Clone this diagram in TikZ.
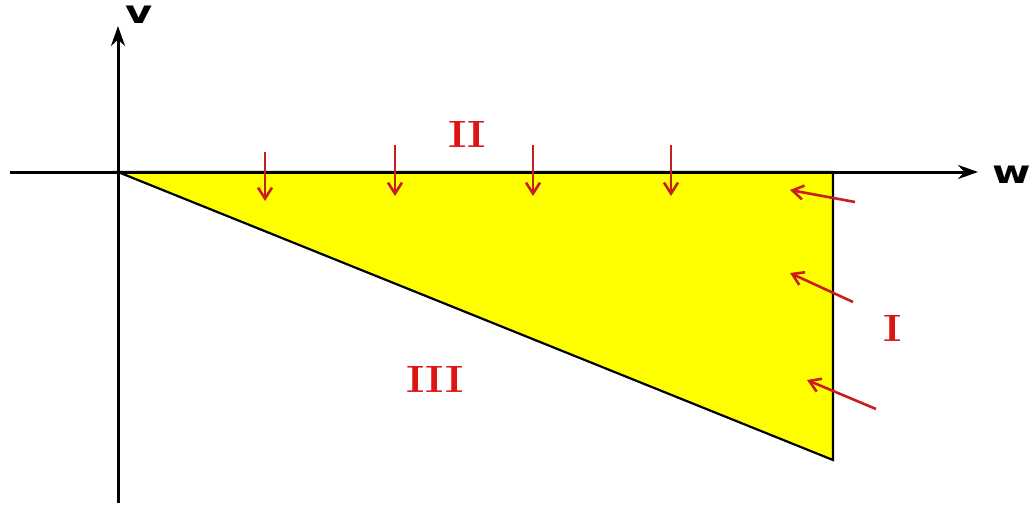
\documentclass[tikz,border=0pt]{standalone}
\usepackage{fontspec}
\newfontfamily\axisfont{DejaVu Sans}
\usetikzlibrary{arrows.meta}
\definecolor{fillyellow}{RGB}{255,255,0}
\definecolor{arrred}{RGB}{200,30,30}
\definecolor{lblred}{RGB}{220,20,20}
\begin{document}
\begin{tikzpicture}[x=1pt,y=-1pt,
  axis/.style={line width=3pt,-{Stealth[length=20pt,width=14pt]}},
  force/.style={draw=arrred,line width=2.6pt,-{Straight Barb[length=11pt,width=14pt]}},
  region/.style={text=lblred,font=\fontsize{38}{40}\selectfont\bfseries,inner sep=0pt,xscale=1.15},
  axlabel/.style={font=\axisfont\fontsize{32}{34}\selectfont\bfseries,inner sep=0pt,xscale=1.3}]
\useasboundingbox (0,0) rectangle (1034,506);
\coordinate (O) at (118,172);
\coordinate (A) at (833,172);
\coordinate (B) at (833,460);
\coordinate (xs) at (10,172);
\coordinate (xe) at (978,172);
\coordinate (ys) at (118,503);
\coordinate (ye) at (118,26);
\filldraw[fill=fillyellow,draw=black,line width=2.2pt,line join=miter] (O) -- (A) -- (B) -- cycle;
\draw[axis] (xs) -- (xe);
\draw[axis] (ys) -- (ye);
\node[axlabel] (v) at (139,15) {v};
\node[axlabel] (w) at (1012,175) {w};
% down arrows
\coordinate (d1s) at (265,152); \coordinate (d1e) at (265,201);
\coordinate (d2s) at (395,145); \coordinate (d2e) at (395,196);
\coordinate (d3s) at (533,145); \coordinate (d3e) at (533,196);
\coordinate (d4s) at (671,145); \coordinate (d4e) at (671,196);
\draw[force] (d1s) -- (d1e);
\draw[force] (d2s) -- (d2e);
\draw[force] (d3s) -- (d3e);
\draw[force] (d4s) -- (d4e);
% left arrows
\coordinate (l1s) at (855,202); \coordinate (l1e) at (790,190);
\coordinate (l2s) at (853,302); \coordinate (l2e) at (790,273);
\coordinate (l3s) at (876,409); \coordinate (l3e) at (807,380);
\draw[force] (l1s) -- (l1e);
\draw[force] (l2s) -- (l2e);
\draw[force] (l3s) -- (l3e);
\node[region] (II) at (467,134) {II};
\node[region] (I) at (893,328) {I};
\node[region] (III) at (435,379) {III};
\end{tikzpicture}
\end{document}
